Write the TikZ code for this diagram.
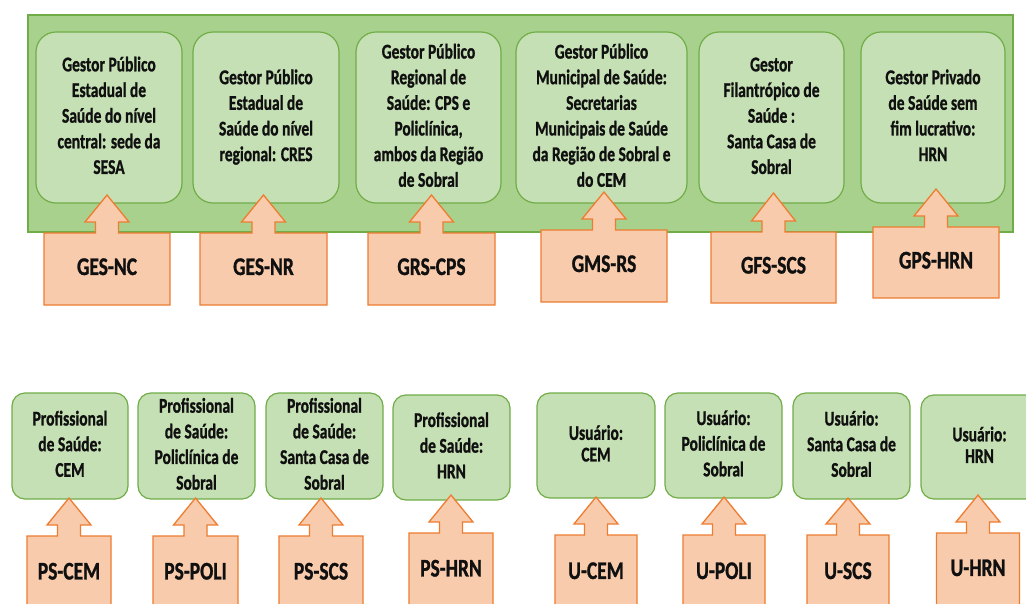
\documentclass[tikz,border=0pt]{standalone}
\usepackage{fontspec}
\setmainfont{Carlito}[BoldFeatures={FakeBold=1.2}]
\usepackage{graphicx}
\definecolor{gbig}{HTML}{A9D18E}
\definecolor{glight}{HTML}{C5E0B4}
\definecolor{gborder}{HTML}{70AD47}
\definecolor{ofill}{HTML}{F8CBAD}
\definecolor{oborder}{HTML}{ED7D31}
\definecolor{txt}{HTML}{101010}
\newcommand\boxfont{\bfseries\fontsize{15.5}{19}\selectfont}
\newcommand\lblfont{\bfseries\fontsize{19.5}{23}\selectfont}
\newcommand\vtext[2][1.35]{\scalebox{1}[#1]{\begin{tabular}{@{}c@{}}#2\end{tabular}}}
\tikzset{
  bigbox/.style={draw=gborder, fill=gbig, line width=1.3pt, inner sep=0pt},
  gbox/.style={draw=gborder, fill=glight, line width=1.2pt, rounded corners=20pt, inner sep=0pt, font=\boxfont, text=txt},
  sbox/.style={gbox, rounded corners=13pt},
  callout/.style={draw=oborder, fill=ofill, line width=1.3pt, line join=miter},
  lbl/.style={font=\lblfont, text=txt, inner sep=0pt}
}
% #1 name, #2 cx, #3 half width, #4 body top, #5 body bottom, #6 tip y, #7 text
\newcommand\upcallout[7]{%
  \draw[callout] ({#2-#3},#5) -- ({#2-#3},#4) -- ({#2-11.5},#4) -- ({#2-11.5},{#4-11})
    -- ({#2-22},{#4-11}) -- (#2,#6) -- ({#2+22},{#4-11}) -- ({#2+11.5},{#4-11})
    -- ({#2+11.5},#4) -- ({#2+#3},#4) -- ({#2+#3},#5) -- cycle;
  \node[lbl] (#1) at (#2,{(#4+#5)/2}) {\vtext[1.3]{#7}};%
}
\begin{document}
\begin{tikzpicture}[x=1pt,y=-1pt]
\useasboundingbox (0,0) rectangle (1026,603);
\clip (0,0) rectangle (1026,603);
\fill[white] (0,0) rectangle (1026,603);

% top panel
\node[bigbox, minimum width=985pt, minimum height=217pt] (panel) at (520.5,123.5) {};

\node[gbox, minimum width=146pt, minimum height=171pt] (g1) at (109,117.5)
  {\vtext{Gestor Público\\Estadual de\\Saúde do nível\\central: sede da\\SESA}};
\node[gbox, minimum width=146pt, minimum height=171pt] (g2) at (266,117.5)
  {\vtext{Gestor Público\\Estadual de\\Saúde do nível\\regional: CRES}};
\node[gbox, minimum width=145pt, minimum height=171pt] (g3) at (428.5,117.5)
  {\vtext{Gestor Público\\Regional de\\Saúde: CPS e\\Policlínica,\\ambos da Região\\de Sobral}};
\node[gbox, minimum width=171pt, minimum height=171pt] (g4) at (601.5,117.5)
  {\vtext{Gestor Público\\Municipal de Saúde:\\Secretarias\\Municipais de Saúde\\da Região de Sobral e\\do CEM}};
\node[gbox, minimum width=145pt, minimum height=171pt] (g5) at (771.5,117.5)
  {\vtext{Gestor\\Filantrópico de\\Saúde :\\Santa Casa de\\Sobral}};
\node[gbox, minimum width=144pt, minimum height=171pt] (g6) at (933,117.5)
  {\vtext{Gestor Privado\\de Saúde sem\\fim lucrativo:\\HRN}};

\upcallout{gesnc}{107}{63}{233}{305}{195}{GES-NC}
\upcallout{gesnr}{263.5}{63.5}{233}{305}{195}{GES-NR}
\upcallout{grscps}{431.5}{63.5}{233}{305}{195}{GRS-CPS}
\upcallout{gmsrs}{604}{63}{230}{302}{192}{GMS-RS}
\upcallout{gfsscs}{773.5}{62.5}{232}{303}{193}{GFS-SCS}
\upcallout{gpshrn}{936}{63}{227}{298}{189}{GPS-HRN}

% bottom row
\node[sbox, minimum width=116pt, minimum height=106pt] (p1) at (70,446)
  {\vtext{Profissional\\de Saúde:\\CEM}};
\node[sbox, minimum width=117pt, minimum height=106pt] (p2) at (196.5,446)
  {\vtext{Profissional\\de Saúde:\\Policlínica de\\Sobral}};
\node[sbox, minimum width=117pt, minimum height=106pt] (p3) at (324.5,446)
  {\vtext{Profissional\\de Saúde:\\Santa Casa de\\Sobral}};
\node[sbox, minimum width=117pt, minimum height=105pt] (p4) at (451.5,447.5)
  {\vtext{Profissional\\de Saúde:\\HRN}};
\node[sbox, minimum width=118pt, minimum height=105pt] (u1) at (596,445.5)
  {\vtext{Usuário:\\[-3pt]CEM}};
\node[sbox, minimum width=117pt, minimum height=105pt] (u2) at (723.5,445.5)
  {\vtext{Usuário:\\Policlínica de\\Sobral}};
\node[sbox, minimum width=117pt, minimum height=106pt] (u3) at (851.5,446)
  {\vtext{Usuário:\\Santa Casa de\\Sobral}};
\node[sbox, minimum width=117pt, minimum height=104pt] (u4) at (979.5,447)
  {\vtext{Usuário:\\[-3pt]HRN}};

\upcallout{pscem}{69}{42}{536}{611}{498}{PS-CEM}
\upcallout{pspoli}{195.5}{42.5}{536}{611}{498}{PS-POLI}
\upcallout{psscs}{321}{42}{536}{611}{498}{PS-SCS}
\upcallout{pshrn}{451}{42}{533}{608}{495}{PS-HRN}
\upcallout{ucem}{596}{41}{535}{611}{497}{U-CEM}
\upcallout{upoli}{724}{41}{535}{611}{497}{U-POLI}
\upcallout{uscs}{848}{41}{535}{611}{498}{U-SCS}
\upcallout{uhrn}{978}{41.5}{533}{607}{495}{U-HRN}
\end{tikzpicture}
\end{document}
